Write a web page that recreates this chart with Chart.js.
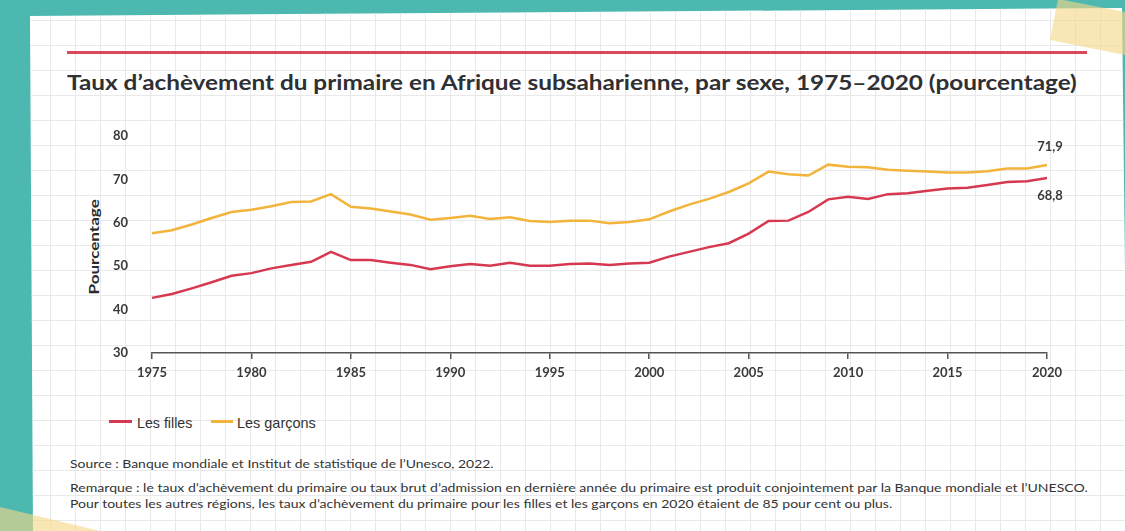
<!DOCTYPE html>
<html><head><meta charset="utf-8">
<script src="https://cdn.jsdelivr.net/npm/chart.js@4.4.1/dist/chart.umd.min.js"></script>
<style>
html,body{margin:0;padding:0;width:1125px;height:531px;overflow:hidden;background:#4cb8b0;}
#paper{position:absolute;left:0;top:0;width:1125px;height:531px;background-color:#fff;
 background-image:linear-gradient(to right,#e9e9e9 1.5px,transparent 1.5px),linear-gradient(to bottom,#e9e9e9 1.5px,transparent 1.5px);
 background-size:25px 25px;background-position:0 20px;
 clip-path:polygon(30px 16px,1122px 8px,1128px 531px,33px 531px);}
.deco{position:absolute;left:0;top:0;width:1125px;height:531px;background:rgba(246,214,135,0.62);}
#d1{clip-path:polygon(1058px -1px,1135px 14px,1135px 57px,1050px 40px);}
#d2{clip-path:polygon(0 507px,100px 531px,0 531px);}
#rule{position:absolute;left:67px;top:51px;width:1020px;height:3px;background:#d8475a;}
.t{position:absolute;white-space:nowrap;line-height:1;transform-origin:left center;color:#333;}
#title{left:67px;top:69px;font:700 21px Lato,"Noto Sans",sans-serif;color:#2f3033;}
#ytitle{left:92px;top:247px;font:700 14px Lato,sans-serif;transform-origin:0 0;color:#2a2a2a;}
.leg{font:15px "Liberation Sans Narrow","Liberation Sans",sans-serif;color:#333;}
.legline{position:absolute;height:3px;}
.note{font:11.5px Lato,sans-serif;color:#333;}
#chartbox{position:absolute;left:0;top:0;width:1125px;height:531px;}
</style></head>
<body>
<div id="paper"></div>
<div class="deco" id="d1"></div>
<div class="deco" id="d2"></div>
<div id="rule"></div>
<div class="t" id="title" data-w="1010">Taux d’achèvement du primaire en Afrique subsaharienne, par sexe, 1975–2020 (pourcentage)</div>
<div class="t" id="ytitle">Pourcentage</div>
<div class="legline" style="left:109px;top:420px;width:23px;background:#d6394f;"></div>
<div class="t leg" style="left:137px;top:414px;" data-w="55">Les filles</div>
<div class="legline" style="left:211px;top:420px;width:22px;background:#f2b43a;"></div>
<div class="t leg" style="left:237px;top:414px;" data-w="79">Les garçons</div>
<div class="t note" style="left:70px;top:457px;" data-w="423">Source : Banque mondiale et Institut de statistique de l’Unesco, 2022.</div>
<div class="t note" style="left:70px;top:481px;" data-w="1018">Remarque : le taux d’achèvement du primaire ou taux brut d’admission en dernière année du primaire est produit conjointement par la Banque mondiale et l’UNESCO.</div>
<div class="t note" style="left:70px;top:497px;" data-w="822">Pour toutes les autres régions, les taux d’achèvement du primaire pour les filles et les garçons en 2020 étaient de 85 pour cent ou plus.</div>
<div id="chartbox"><canvas id="c" width="1125" height="531"></canvas></div>
<script>
const years = [1975,1976,1977,1978,1979,1980,1981,1982,1983,1984,1985,1986,1987,1988,1989,1990,1991,1992,1993,1994,1995,1996,1997,1998,1999,2000,2001,2002,2003,2004,2005,2006,2007,2008,2009,2010,2011,2012,2013,2014,2015,2016,2017,2018,2019,2020];
const girls = [42.7,43.6,44.9,46.3,47.8,48.4,49.5,50.3,51.0,53.3,51.4,51.4,50.8,50.3,49.3,50.0,50.5,50.1,50.8,50.1,50.1,50.5,50.6,50.3,50.6,50.8,52.2,53.3,54.4,55.3,57.5,60.4,60.5,62.5,65.4,66.0,65.5,66.6,66.8,67.4,67.9,68.1,68.7,69.4,69.6,70.3];
const boys = [57.6,58.3,59.6,61.1,62.5,63.0,63.8,64.8,64.9,66.6,63.7,63.3,62.6,61.9,60.7,61.1,61.6,60.9,61.3,60.4,60.2,60.5,60.5,59.9,60.2,60.8,62.6,64.2,65.5,67.1,69.1,71.8,71.2,70.9,73.4,72.9,72.8,72.2,72.0,71.8,71.6,71.6,71.9,72.5,72.5,73.3];
const seriesNames = ['Les filles','Les garçons'];
const endLabels = ['68,8','71,9'];
const yMin = 30, yMax = 80, yStep = 10;

// fit text widths
document.querySelectorAll('[data-w]').forEach(el=>{
  const w = parseFloat(el.dataset.w);
  el.style.transform = 'scaleX(' + (w/el.offsetWidth) + ')';
});
(function(){
  const el = document.getElementById('ytitle');
  const w = el.offsetWidth, s = 95 / w;
  el.style.transform = 'rotate(-90deg) translate(' + (-w*s/2) + 'px,-7px) scaleX(' + s + ')';
})();

const endLabelPlugin = {
  id:'endLabels',
  afterDatasetsDraw(chart){
    const ctx = chart.ctx;
    ctx.save();
    ctx.font = 'bold 13px Lato, sans-serif';
    ctx.fillStyle = '#3a3a3a';
    ctx.textAlign = 'center';
    ctx.textBaseline = 'middle';
    chart.data.datasets.forEach((ds,i)=>{
      const meta = chart.getDatasetMeta(i);
      const p = meta.data[meta.data.length-1];
      ctx.fillText(ds.endLabel, p.x + 3, p.y + ds.endOffset);
    });
    ctx.restore();
  }
};

new Chart(document.getElementById('c'), {
  type:'line',
  data:{
    labels: years,
    datasets:[
      {label:seriesNames[0], data:girls, borderColor:'#d6394f', borderWidth:2.5, pointRadius:0, tension:0, endLabel:endLabels[0], endOffset:18},
      {label:seriesNames[1], data:boys, borderColor:'#f2b43a', borderWidth:2.5, pointRadius:0, tension:0, endLabel:endLabels[1], endOffset:-18}
    ]
  },
  options:{
    responsive:false, animation:false, devicePixelRatio:1,
    layout:{padding:{left:60,right:78,top:136,bottom:138}},
    plugins:{legend:{display:false}, tooltip:{enabled:false}, title:{display:false}},
    scales:{
      x:{
        type:'category', offset:false,
        afterFit(s){ s.height = 40; },
        border:{display:true, color:'#555', width:1.5},
        grid:{display:true, drawOnChartArea:false, drawTicks:true, tickLength:6, lineWidth:1.5,
          color:(c)=> (c.index!==undefined && years[c.index]%5===0) ? '#555' : 'rgba(0,0,0,0)'},
        ticks:{autoSkip:false, maxRotation:0, minRotation:0, padding:6, color:'#3a3a3a',
          font:{family:'Lato, sans-serif', size:13, weight:'bold'},
          callback:(v,i)=> years[i]%5===0 ? String(years[i]) : ''}
      },
      y:{
        min:yMin, max:yMax,
        afterFit(s){ s.width = 92; },
        border:{display:false},
        grid:{display:false, drawTicks:false},
        ticks:{stepSize:yStep, padding:24, color:'#3a3a3a', font:{family:'Lato, sans-serif', size:13, weight:'bold'}}
      }
    }
  },
  plugins:[endLabelPlugin]
});
</script>
</body></html>
